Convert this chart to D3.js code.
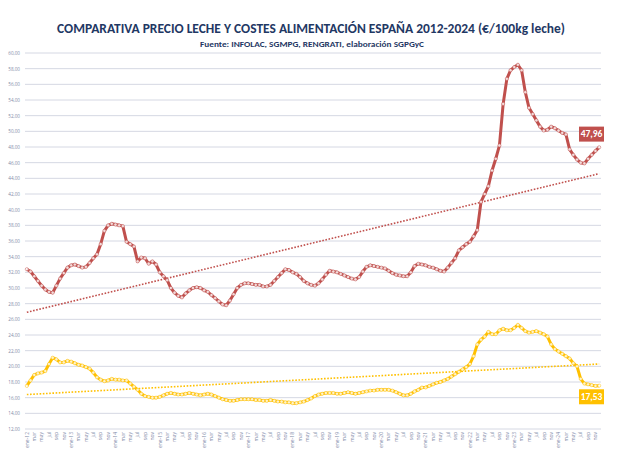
<!DOCTYPE html>
<html><head><meta charset="utf-8">
<script src="https://cdn.jsdelivr.net/npm/d3@7"></script>
<style>
html,body{margin:0;padding:0;background:#fff;}
svg{display:block;}
</style></head>
<body>
<svg id="chart" width="636" height="450"></svg>
<script>
// ---- DATA ----
const years = [2012,2013,2014,2015,2016,2017,2018,2019,2020,2021,2022,2023,2024];
const monthNames = ["ene","feb","mar","abr","may","jun","jul","ago","sep","oct","nov","dic"];
const yTicks = [12,14,16,18,20,22,24,26,28,30,32,34,36,38,40,42,44,46,48,50,52,54,56,58,60];

// Precio leche (€/100kg), monthly ene-12 .. dic-24
const milkPrice = [
  32.4,32.1,31.5,30.9,30.3,29.8,29.5,29.4,30.3,31.2,31.9,32.6,
  32.9,33.0,32.8,32.6,32.7,33.2,33.8,34.3,35.6,37.3,38.0,38.2,
  38.1,38.0,37.9,35.9,35.6,35.3,33.4,33.9,33.8,33.1,33.4,33.0,
  32.0,31.5,31.0,30.0,29.4,29.0,28.8,29.3,29.7,30.0,30.1,30.0,
  29.7,29.5,29.1,28.7,28.3,27.9,27.8,28.4,29.2,30.0,30.4,30.6,
  30.6,30.5,30.4,30.4,30.2,30.2,30.4,30.9,31.4,31.9,32.4,32.3,
  32.0,31.8,31.4,30.9,30.6,30.4,30.3,30.6,31.1,31.7,32.2,32.1,
  32.0,31.8,31.6,31.4,31.2,31.1,31.4,32.1,32.7,32.9,32.8,32.7,
  32.6,32.5,32.2,31.9,31.7,31.6,31.5,31.5,32.0,32.8,33.1,33.0,
  32.9,32.7,32.6,32.4,32.2,32.1,32.6,33.2,33.8,34.8,35.2,35.6,
  35.9,36.6,37.4,41.0,42.0,43.0,45.0,46.5,48.2,53.5,56.7,57.8,
  58.2,58.5,57.8,55.0,53.0,52.2,51.4,50.6,50.1,50.2,50.6,50.4,
  50.1,49.8,49.6,47.7,47.0,46.4,46.0,45.9,46.5,47.0,47.5,47.96
];

// Costes alimentación (€/100kg leche), monthly ene-12 .. dic-24
const feedCost = [
  17.5,18.2,18.9,19.1,19.2,19.4,20.3,21.1,20.9,20.5,20.5,20.7,
  20.6,20.4,20.2,20.1,19.9,19.7,19.2,18.6,18.3,18.1,18.2,18.4,
  18.3,18.3,18.2,18.2,17.8,17.4,17.0,16.5,16.2,16.1,16.0,16.0,
  16.1,16.3,16.5,16.6,16.5,16.4,16.4,16.5,16.6,16.5,16.4,16.3,
  16.4,16.5,16.4,16.2,16.0,15.8,15.7,15.6,15.6,15.7,15.8,15.8,
  15.8,15.8,15.7,15.7,15.6,15.6,15.7,15.6,15.5,15.5,15.4,15.4,
  15.3,15.3,15.4,15.5,15.7,15.9,16.2,16.4,16.5,16.6,16.6,16.6,
  16.5,16.5,16.6,16.7,16.6,16.5,16.6,16.7,16.8,16.9,16.9,17.0,
  17.0,17.0,17.0,16.9,16.7,16.5,16.3,16.3,16.5,16.8,17.0,17.3,
  17.3,17.5,17.7,17.9,18.0,18.2,18.4,18.7,19.0,19.3,19.6,19.9,
  20.3,21.3,22.8,23.4,23.8,24.4,24.1,24.1,24.6,24.8,24.6,24.6,
  24.9,25.3,24.9,24.5,24.3,24.4,24.5,24.3,24.1,23.8,22.8,22.2,
  21.9,21.6,21.3,21.0,20.4,20.0,18.4,17.8,17.7,17.6,17.5,17.53
];

// Linear trend lines (value at ene-12, value at dic-24)
const milkTrend = [26.9, 44.6];
const feedTrend = [16.4, 20.3];

const titleText = "COMPARATIVA PRECIO LECHE Y COSTES ALIMENTACIÓN ESPAÑA 2012-2024 (€/100kg leche)";
const subtitleText = "Fuente: INFOLAC, SGMPG, RENGRATI, elaboración SGPGyC";

// ---- BUILD ----
(function () {
const months = [];
years.forEach(yr => monthNames.forEach(m => months.push({m, yr})));
const keys = months.map((d,i) => i);
const fmt = v => d3.format(".2f")(v).replace(".", ",");

const svg = d3.select("#chart");
const pL = 25, pR = 601, pT = 53, pB = 429;
const x = d3.scaleBand().domain(keys).range([pL, pR]).padding(0);
const y = d3.scaleLinear().domain([12, 60]).range([pB, pT]);
const cx = i => x(i) + x.bandwidth()/2;

const navy = "#1F3864";
const red = "#C0504D";
const gold = "#FFC000";
const fontNarrow = "Carlito, 'Liberation Sans Narrow', 'Open Sans', sans-serif";

// title
svg.append("text").attr("x", 311).attr("y", 32.5).attr("text-anchor","middle")
  .attr("font-family", fontNarrow)
  .attr("font-weight","bold").attr("font-size", 14).attr("fill", navy)
  .attr("textLength", 508).attr("lengthAdjust","spacingAndGlyphs").text(titleText);
svg.append("text").attr("x", 312).attr("y", 46.5).attr("text-anchor","middle")
  .attr("font-family", fontNarrow)
  .attr("font-weight","bold").attr("font-size", 8.8).attr("fill", navy)
  .attr("textLength", 224).attr("lengthAdjust","spacingAndGlyphs").text(subtitleText);

// gridlines
svg.append("g").selectAll("line").data(yTicks).join("line")
  .attr("x1", pL).attr("x2", pR)
  .attr("y1", d => y(d)).attr("y2", d => y(d))
  .attr("stroke", "#D5D8E3").attr("stroke-width", 1);

// y axis labels
const yAxis = d3.axisLeft(y).tickValues(yTicks).tickFormat(fmt).tickSize(0).tickPadding(5);
const gy = svg.append("g").attr("transform", `translate(${pL},0)`).call(yAxis);
gy.select(".domain").remove();
gy.selectAll("text").attr("font-family","'Open Sans', sans-serif").attr("font-size", 4.6).attr("fill", "#7F8BA8");

// x axis labels (every 2nd month)
const xAxis = d3.axisBottom(x).tickValues(keys.filter(i => i % 2 === 0))
  .tickFormat(i => months[i].m === "ene" ? `ene-${String(months[i].yr).slice(2)}` : months[i].m)
  .tickSize(0).tickPadding(0);
const gx = svg.append("g").attr("transform", `translate(0,${pB + 3})`).call(xAxis);
gx.select(".domain").remove();
gx.selectAll("text").attr("font-family","'Open Sans', sans-serif").attr("font-size", 5)
  .attr("fill", "#7F8BA8").attr("text-anchor","end")
  .attr("transform","rotate(-90)").attr("dy","0.35em").attr("x", 0).attr("y", 0);

// trend lines
function trend(vals, color) {
  svg.append("line")
    .attr("x1", cx(0)).attr("y1", y(vals[0]))
    .attr("x2", cx(keys.length-1)).attr("y2", y(vals[1]))
    .attr("stroke", color).attr("stroke-width", 1.6).attr("stroke-dasharray", "1.6,1.6");
}
trend(milkTrend, red);
trend(feedTrend, gold);

// series: thick line with small white markers outlined in series colour
function series(vals, color) {
  const line = d3.line().x((d,i) => cx(i)).y(d => y(d));
  svg.append("path").datum(vals).attr("d", line).attr("fill","none")
    .attr("stroke", color).attr("stroke-width", 3).attr("stroke-linejoin","round");
  svg.append("g").selectAll("circle").data(vals).join("circle")
    .attr("cx", (d,i) => cx(i)).attr("cy", d => y(d)).attr("r", 1.6)
    .attr("fill", "#fff").attr("fill-opacity", 0.8)
    .attr("stroke", color).attr("stroke-width", 0.6).attr("stroke-opacity", 0.8);
}
series(milkPrice, red);
series(feedCost, gold);

// end labels
function endLabel(vals, color, dy) {
  const last = vals[vals.length-1];
  const bx = 579, bw = 25, bh = 15;
  const by = y(last) + dy;
  svg.append("rect").attr("x", bx).attr("y", by).attr("width", bw).attr("height", bh).attr("fill", color);
  svg.append("text").attr("x", bx + bw/2).attr("y", by + bh/2).attr("dy","0.35em")
    .attr("text-anchor","middle").attr("font-family", fontNarrow)
    .attr("font-weight","bold").attr("font-size", 9.5).attr("fill","#fff").text(fmt(last));
}
endLabel(milkPrice, red, -20.7);
endLabel(feedCost, gold, 3.6);
})();
</script>
</body></html>
